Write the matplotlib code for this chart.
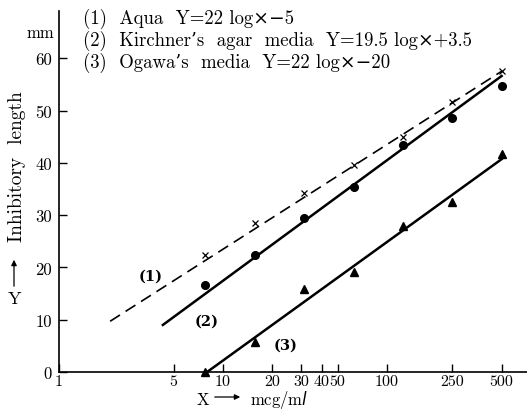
import matplotlib
matplotlib.use("Agg")
import matplotlib.pyplot as plt
from matplotlib.ticker import FixedLocator, FixedFormatter, NullLocator

plt.rcParams['font.family'] = ['cmr10', 'DejaVu Serif']
plt.rcParams['axes.formatter.use_mathtext'] = True

# Data (concentration in mcg/ml, inhibitory length in mm)
conc = [7.8, 15.6, 31.25, 62.5, 125, 250, 500]
aqua = [22.4, 28.5, 34.2, 39.6, 44.9, 51.6, 57.6]
kirchner = [16.6, 22.4, 29.4, 35.4, 43.4, 48.6, 54.7]
ogawa = [0.0, 5.8, 15.9, 19.2, 28.0, 32.6, 41.7]

# Regression lines (endpoints)
aqua_line_x = [2.05, 500]
aqua_line_y = [9.7, 57.5]
kirch_line_x = [4.3, 500]
kirch_line_y = [9.0, 56.6]
ogawa_line_x = [8.0, 500]
ogawa_line_y = [0.0, 40.7]

xticks = [1, 5, 10, 20, 30, 40, 50, 100, 250, 500]
xticklabels = ['1', '5', '10', '20', '30', '40', '50', '100', '250', '500']
yticks = [0, 10, 20, 30, 40, 50, 60]

legend_lines = [
    "(1)  Aqua  Y=22 log\u00d7\u22125",
    "(2)  Kirchner\u2019s  agar  media  Y=19.5 log\u00d7+3.5",
    "(3)  Ogawa\u2019s  media  Y=22 log\u00d7\u221220",
]

W, H = 527, 410
fig = plt.figure(figsize=(W / 100, H / 100), dpi=100)
ax = fig.add_axes([59 / W, 1 - 373 / H, 1 - 59 / W, (373 - 12) / H])

ax.set_xscale('log')
ax.set_xlim(1, 10 ** ((W - 59) / 164))
ax.set_ylim(0, (373 - 12) / 5.23)

ax.plot(aqua_line_x, aqua_line_y, color='black', lw=1.2, dashes=(7, 4))
ax.plot(kirch_line_x, kirch_line_y, color='black', lw=1.8)
ax.plot(ogawa_line_x, ogawa_line_y, color='black', lw=1.8)

ax.plot(conc, aqua, linestyle='none', marker='x', color='black', ms=5, mew=0.9)
ax.plot(conc, kirchner, linestyle='none', marker='o', color='black', ms=5.5)
ax.plot(conc, ogawa, linestyle='none', marker='^', color='black', ms=5.5, clip_on=False)

for s in ['top', 'right']:
    ax.spines[s].set_visible(False)
for s in ['left', 'bottom']:
    ax.spines[s].set_linewidth(1.2)

ax.xaxis.set_major_locator(FixedLocator(xticks))
ax.xaxis.set_major_formatter(FixedFormatter(xticklabels))
ax.xaxis.set_minor_locator(NullLocator())
ax.set_yticks(yticks)
ax.set_yticklabels([str(v) for v in yticks])
ax.tick_params(axis='both', direction='in', length=6, width=1, labelsize=12)
ax.tick_params(axis='x', pad=1.5, labelsize=11.5)
ax.tick_params(axis='y', pad=5)

# Line labels
lbl_font = dict(family='DejaVu Serif', fontsize=10.5, fontweight='bold',
                ha='center', va='center')
ax.text(3.6, 18.4, '(1)', **lbl_font)
ax.text(7.9, 9.9, '(2)', **lbl_font)
ax.text(24, 5.2, '(3)', **lbl_font)

# Legend text
for i, t in enumerate(legend_lines):
    fig.text(83 / W, 1 - (19 + 22 * i) / H, t, fontsize=13.5, ha='left', va='center')

fig.text(40 / W, 1 - 33 / H, 'mm', fontsize=12, ha='center', va='center')
fig.text(17 / W, 1 - 167 / H, 'Inhibitory  length', fontsize=14, rotation=90,
         ha='center', va='center')
ax.annotate('', xy=(14 / W, 1 - 258 / H), xytext=(14 / W, 1 - 290 / H),
            xycoords='figure fraction', textcoords='figure fraction',
            annotation_clip=False,
            arrowprops=dict(arrowstyle='-|>', color='black', lw=0.9, mutation_scale=8))
fig.text(14 / W, 1 - 299 / H, 'Y', fontsize=13, ha='center', va='center')

fig.text(203 / W, 1 - 400 / H, 'X', fontsize=12, ha='center', va='center')
ax.annotate('', xy=(243 / W, 1 - 398 / H), xytext=(212 / W, 1 - 398 / H),
            xycoords='figure fraction', textcoords='figure fraction',
            annotation_clip=False,
            arrowprops=dict(arrowstyle='-|>', color='black', lw=0.9, mutation_scale=8))
fig.text(250 / W, 1 - 400 / H, 'mcg/m$\\mathit{l}$', fontsize=12, ha='left', va='center')

fig.savefig('out.png', dpi=100)
